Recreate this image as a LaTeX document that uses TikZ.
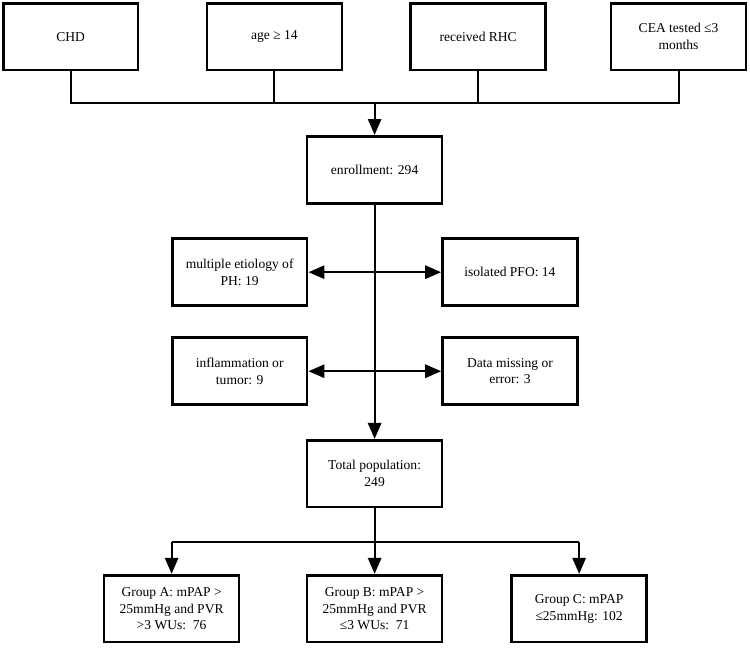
\documentclass[tikz,border=0pt]{standalone}
\usepackage{fontspec}
\setmainfont{Liberation Serif}
\usepackage{tikz}
\usetikzlibrary{arrows.meta,positioning,calc}

\begin{document}
\begin{tikzpicture}[
  every node/.style = {font=\fontsize{10.2}{12.6}\selectfont},
  box/.style  = {draw=black, line width=2pt, fill=white,
                 minimum width=3.57cm, minimum height=1.77cm,
                 inner sep=2pt, align=center},
  conn/.style = {draw=black, line width=1.5pt},
  arr/.style  = {conn, -{Triangle[length=12pt,width=10pt]}},
  darr/.style = {conn, {Triangle[length=12pt,width=10pt]}-{Triangle[length=12pt,width=10pt]}},
]

\useasboundingbox (0,0) rectangle (19.84,-17.12);

%% -- Column positions ---------------------------------------------------------
\def\cA{1.87}   % CHD
\def\cB{7.26}   % age
\def\cC{12.65}  % RHC
\def\cD{17.95}  % CEA
\def\cM{9.91}   % main axis
\def\cL{6.34}   % left exclusions
\def\cR{13.49}  % right exclusions
\def\gA{4.54}   % group A
\def\gC{15.32}  % group C

%% -- Inclusion criteria -------------------------------------------------------
\node[box] (chd) at (\cA, -0.97) {CHD};
\node[box] (age) at (\cB, -0.97) {age ≥ 14};
\node[box] (rhc) at (\cC, -0.97) {received RHC};
\node[box] (cea) at (\cD, -0.97) {CEA tested ≤3\\months};

\coordinate (join) at (\cM, -2.73);

%% -- Enrollment ---------------------------------------------------------------
\node[box] (enroll) at (\cM, -4.49) {enrollment: 294};

%% -- Exclusions ---------------------------------------------------------------
\node[box] (multi)   at (\cL, -7.20) {multiple etiology of\\PH: 19};
\node[box] (pfo)     at (\cR, -7.20) {isolated PFO: 14};
\node[box] (inflam)  at (\cL, -9.82) {inflammation or\\tumor: 9};
\node[box] (missing) at (\cR, -9.82) {Data missing or\\error: 3};

%% -- Total population ---------------------------------------------------------
\node[box] (total) at (\cM, -12.53) {Total population:\\249};

\coordinate (split) at (\cM, -14.34);

%% -- Groups -------------------------------------------------------------------
\node[box] (grpA) at (\gA, -16.10) {Group A: mPAP >\\25mmHg and PVR\\>3 WUs:\ \ 76};
\node[box] (grpB) at (\cM, -16.10) {Group B: mPAP >\\25mmHg and PVR\\≤3 WUs:\ \ 71};
\node[box] (grpC) at (\gC, -16.10) {Group C: mPAP\\≤25mmHg: 102};

%% -- Connectors ---------------------------------------------------------------
\draw[conn] (chd.south) |- (join) -| (cea.south);
\draw[conn] (age.south) -- (age.south |- join);
\draw[conn] (rhc.south) -- (rhc.south |- join);
\draw[arr]  (join) -- (enroll.north);

\draw[arr]  (enroll.south) -- (total.north);
\draw[darr] (multi.east) -- (pfo.west);
\draw[darr] (inflam.east) -- (missing.west);

\draw[conn] (total.south) -- (split);
\draw[conn] (grpA.north |- split) -- (grpC.north |- split);
\draw[arr]  (grpA.north |- split) -- (grpA.north);
\draw[arr]  (split) -- (grpB.north);
\draw[arr]  (grpC.north |- split) -- (grpC.north);

\end{tikzpicture}
\end{document}
